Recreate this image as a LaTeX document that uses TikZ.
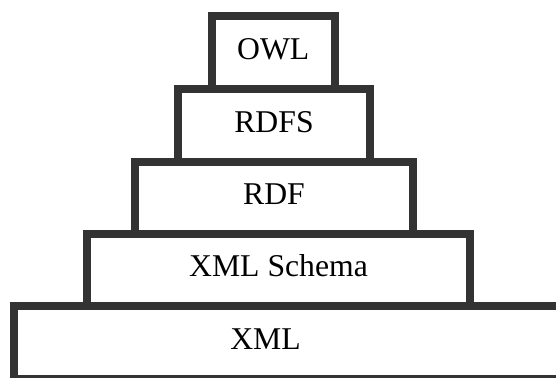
\documentclass[tikz,border=0pt]{standalone}
\usepackage{fontspec}
\setmainfont{Liberation Serif}
\definecolor{edge}{HTML}{333333}
\tikzset{
  layer/.style={draw=edge, line width=8pt, fill=white},
  caption/.style={anchor=base, inner sep=0pt, font=\fontsize{31.7}{36}\selectfont}
}
\begin{document}
\begin{tikzpicture}[x=1pt,y=-1pt]
\useasboundingbox (0,0) rectangle (556,377);
\clip (0,0) rectangle (556,377);
\fill[white] (0,0) rectangle (556,377);
% layers (drawn bottom-up)
\draw[layer] (14,306) rectangle (572,378.5);
\draw[layer] (86.5,234) rectangle (470.4,306);
\draw[layer] (134.7,162) rectangle (413.3,234);
\draw[layer] (178,89.5) rectangle (370,162);
\draw[layer] (212,16) rectangle (334.5,89.5);
% labels
\node[caption] (owl) at (273.2,60) {OWL};
\node[caption] (rdfs) at (274,132.8) {RDFS};
\node[caption] (rdf) at (274,204.5) {RDF};
\node[caption] (xmls) at (278.5,276) {XML Schema};
\node[caption] (xml) at (265.5,349.3) {XML};
\end{tikzpicture}
\end{document}
